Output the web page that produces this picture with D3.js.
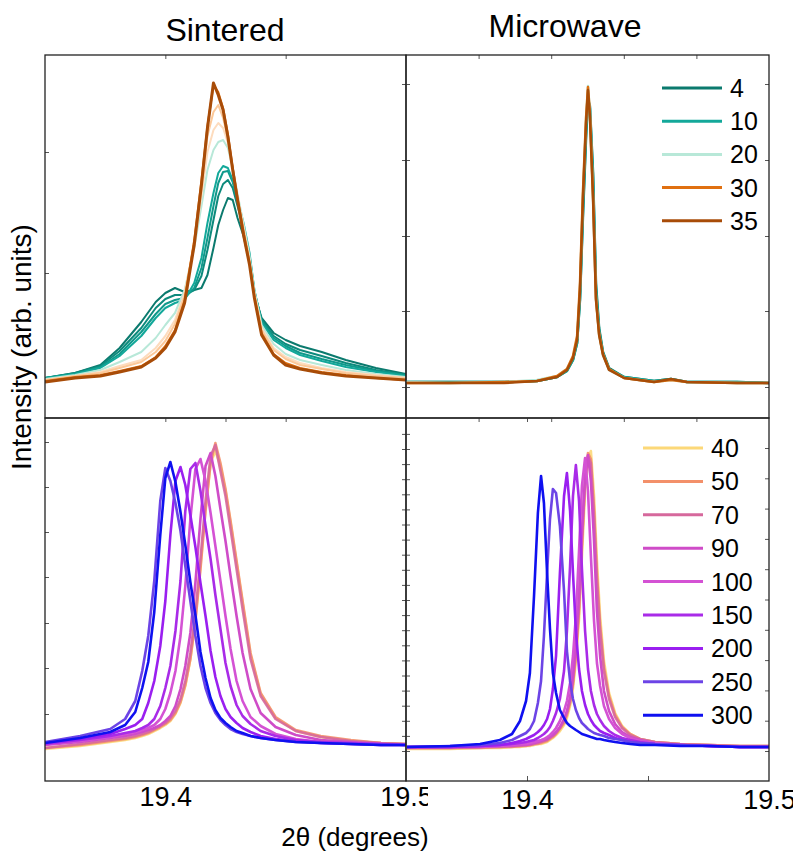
<!DOCTYPE html>
<html>
<head>
<meta charset="utf-8">
<script src="https://cdn.jsdelivr.net/npm/d3@7/dist/d3.min.js"></script>
<style>
  body { margin: 0; background: #fff; }
  text { font-family: "Liberation Sans", Arial, sans-serif; fill: #000; }
</style>
</head>
<body>
<div class="container"></div>
<script>
// 2theta grids (degrees) and intensities (arb. units)

// --- sintered, early times
var sinteredEarlyTimes = ['4', '6', '8', '10', '20', '25', '28', '30', '35'];
var sinteredEarlyX = [19.350, 19.3625, 19.373, 19.381, 19.390, 19.396, 19.400, 19.404, 19.408, 19.412,
  19.415, 19.4175, 19.420, 19.422, 19.424, 19.426, 19.428, 19.430, 19.4325, 19.435,
  19.437, 19.440, 19.445, 19.450, 19.456, 19.465, 19.475, 19.4875, 19.500];
var sinteredEarlyY = [
  [40,45,53,70,96,116,125,130,126,128,130,143,170,193,208,220,218,200,182,155,124,100,85,78,72,66,58,50,44],
  [40,45,52,67,90,110,119,123,123,128,142,168,198,222,234,238,230,212,190,160,126,98,82,74,68,62,55,48,43],
  [40,44,51,64,86,104,114,118,120,130,150,180,212,235,246,247,236,216,192,162,127,97,80,72,65,59,53,47,43],
  [40,44,50,62,82,100,110,115,118,135,160,195,225,245,252,250,238,218,195,165,128,95,78,70,63,57,51,46,42],
  [39,43,48,56,66,80,93,105,128,170,212,248,268,276,278,270,250,224,194,162,128,93,74,64,58,53,48,44,41],
  [38,42,46,52,58,70,82,98,125,172,222,266,288,295,290,275,250,222,190,158,125,90,70,61,55,50,46,43,40],
  [38,42,45,50,56,66,77,94,122,176,230,282,306,313,300,280,250,220,188,156,123,88,68,59,53,49,45,42,40],
  [37,41,43,47,52,61,72,88,118,178,238,292,333,326,310,284,250,220,186,155,122,85,64,55,50,46,43,40,38],
  [36,40,42,46,51,60,70,86,115,173,233,290,335,323,308,281,248,218,183,153,120,83,63,53,49,45,42,40,38]
];

// --- microwave, early times
var microwaveEarlyTimes = ['4', '10', '20', '30', '35'];
var microwaveEarlyX = [19.350, 19.3678, 19.3905, 19.4041, 19.4124, 19.4165, 19.4190, 19.4207, 19.4219, 19.4231,
  19.4244, 19.4252, 19.4260, 19.4273, 19.4285, 19.4298, 19.4314, 19.4339, 19.4401, 19.4525,
  19.4595, 19.4661, 19.4868, 19.500];
var microwaveEarlyY = [
  [36,36,36,37,41,47,58,75,118,200,280,318,312,245,135,90,66,50,41,37,39,36,36,35],
  [36,36,36,37,41,47,58,75,120,205,285,320,310,240,130,88,65,49,41,37,39,36,36,35],
  [36,35,36,38,42,49,61,80,130,222,300,332,306,220,119,83,63,48,40,36,38,36,35,35],
  [35,35,36,37,42,49,62,82,135,225,300,331,305,222,120,84,64,49,40,36,38,36,35,35],
  [35,35,35,37,41,48,60,78,128,218,295,328,301,218,118,83,63,48,40,36,39,36,35,35]
];

// --- sintered, late times
var lateTimes = ['40', '50', '70', '90', '100', '150', '200', '250', '300'];
var sinteredLateX = [19.3500, 19.3646, 19.3771, 19.3833, 19.3875, 19.3904, 19.3929, 19.3954, 19.3979, 19.4000,
  19.4021, 19.4042, 19.4063, 19.4083, 19.4104, 19.4125, 19.4146, 19.4167, 19.4188, 19.4208,
  19.4229, 19.4250, 19.4271, 19.4296, 19.4321, 19.4354, 19.4396, 19.4458, 19.4542, 19.4646,
  19.4771, 19.4896, 19.5000];
var sinteredLateY = [
  [32,35,39,41,43,45,47,50,53,56,60,67,78,95,122,162,215,272,318,330,315,290,258,218,178,126,87,63,50,44,40,38,37],
  [33,36,40,42,44,46,48,51,54,57,61,68,79,96,122,160,212,270,318,338,318,292,260,220,180,128,88,64,51,45,41,38,37],
  [33,37,41,43,45,47,49,52,55,58,63,70,82,100,128,168,222,280,325,336,310,285,252,212,172,122,85,62,50,44,40,38,37],
  [36,39,43,45,47,49,51,53,56,60,65,75,92,115,148,198,262,315,328,305,272,240,205,165,128,92,68,54,46,41,39,37,36],
  [37,40,44,47,49,51,53,56,62,72,88,110,145,195,262,312,322,300,268,235,200,165,132,100,80,64,55,47,42,39,38,37,36],
  [37,41,45,48,50,53,56,62,75,93,115,150,200,270,312,318,290,255,222,186,152,118,95,76,65,57,50,45,41,39,38,37,36],
  [38,42,47,52,56,62,78,100,135,180,246,300,314,296,266,234,198,165,130,104,85,72,64,58,53,49,45,42,40,38,37,36,36],
  [39,45,52,62,80,110,145,200,280,313,300,278,250,215,180,145,115,93,78,68,61,56,52,49,47,45,43,41,39,38,37,36,36],
  [38,43,49,56,69,93,119,169,246,303,319,299,269,236,199,166,129,103,83,71,63,58,54,50,48,45,43,41,39,38,37,36,36]
];

// --- microwave, late times
var microwaveLateX = [19.3504, 19.3682, 19.3806, 19.3888, 19.3938, 19.3971, 19.3996, 19.4012, 19.4029, 19.4045,
  19.4058, 19.4070, 19.4083, 19.4095, 19.4107, 19.4120, 19.4136, 19.4153, 19.4165, 19.4178,
  19.4190, 19.4202, 19.4215, 19.4227, 19.4240, 19.4252, 19.4264, 19.4277, 19.4289, 19.4302,
  19.4318, 19.4339, 19.4364, 19.4393, 19.4426, 19.4467, 19.4529, 19.4632, 19.4756, 19.4880,
  19.5000];
var microwaveLateY = [
  [32,32,33,33,34,34,35,35,36,37,37,38,39,41,43,46,50,56,63,75,93,120,162,225,290,322,330,285,220,165,120,88,68,55,47,42,39,37,36,35,35],
  [33,33,33,34,34,35,35,36,37,37,38,39,40,42,44,47,52,58,66,78,97,126,170,235,298,328,322,272,208,156,114,85,66,54,47,42,39,37,36,35,35],
  [33,33,34,34,35,35,36,36,37,38,39,40,41,43,45,48,53,60,68,80,100,130,175,240,300,325,318,265,200,150,110,82,64,53,46,42,39,37,36,35,35],
  [34,34,34,35,35,36,36,37,38,39,40,41,42,44,46,49,54,62,70,84,105,138,185,250,305,326,300,240,170,125,90,70,57,49,44,41,38,36,35,34,34],
  [34,34,34,35,36,37,37,38,39,40,41,42,44,46,49,53,60,70,80,98,125,165,230,295,323,290,225,160,118,95,75,62,53,47,43,40,38,36,35,34,34],
  [34,34,35,36,37,38,39,40,41,43,45,47,50,54,60,68,82,110,150,215,285,316,280,212,150,112,90,76,67,61,55,50,46,43,41,39,37,36,35,34,34],
  [34,34,35,36,38,40,42,44,46,49,52,56,62,72,92,125,208,285,308,270,208,150,112,90,76,67,61,56,53,50,48,46,43,41,39,38,37,36,35,34,34],
  [34,35,36,38,41,45,48,52,60,78,100,145,208,262,292,288,255,190,130,100,82,71,63,58,55,52,50,48,47,46,45,43,42,41,39,38,37,36,35,34,34],
  [34,35,37,41,47,60,80,108,185,268,305,278,208,152,108,88,71,63,58,55,53,51,49,47,46,45,44,43,42,42,41,40,39,38,37,36,36,35,35,34,34]
];

var earlyLegend = ['4', '10', '20', '30', '35'];
var xTickLabels = [19.4, 19.5];

const WIDTH = 793;
const HEIGHT = 854;
const X_DOMAIN = [19.35, 19.5];
const Y_DOMAIN = [0, 363];

var colors = {
  '4': '#0b7a6e', '6': '#0d8a7c', '8': '#10998b', '10': '#13a89a', '20': '#b8e8d8',
  '25': '#fddcbe', '28': '#fcc898', '30': '#e07010', '35': '#a84c08',
  '40': '#fcd878', '50': '#f3906a', '70': '#d6689c', '90': '#cf4cc8', '100': '#d452d4',
  '150': '#a92be8', '200': '#9a1ff0', '250': '#6c44e6', '300': '#0f10f0'
};

var translate = function (x, y) {
  return 'translate(' + x + ',' + y + ')';
};

var svg = d3.select('.container').append('svg')
  .attr('width', WIDTH)
  .attr('height', HEIGHT);

var minorTicks = d3.range(30, 350, 15.1);
var majorTicks = d3.range(30, 340, 30.3);
var topTicks = [31, 107, 182, 258, 334];

var panels = [
  { id: 'tl', x0: 45, x1: 406, y0: 55, y1: 418, grid: sinteredEarlyX, series: sinteredEarlyY, names: sinteredEarlyTimes,
    top: [19.4, 19.45], bottom: [], left: [145, 266], right: topTicks, width: function (n) { return n === '35' ? 3 : 2; } },
  { id: 'tr', x0: 406, x1: 769, y0: 55, y1: 418, grid: microwaveEarlyX, series: microwaveEarlyY, names: microwaveEarlyTimes,
    top: [19.38, 19.41, 19.44, 19.47], bottom: [], left: topTicks, right: topTicks, width: function () { return 2.5; } },
  { id: 'bl', x0: 45, x1: 406, y0: 418, y1: 781, grid: sinteredLateX, series: sinteredLateY, names: lateTimes,
    top: [19.4, 19.425, 19.45], bottom: [], left: [67, 113, 158, 204, 249, 294, 339], right: minorTicks, width: function () { return 2.6; } },
  { id: 'br', x0: 406, x1: 769, y0: 418, y1: 781, grid: microwaveLateX, series: microwaveLateY, names: lateTimes,
    top: [19.38, 19.40, 19.41, 19.44, 19.47], bottom: [19.4, 19.45], left: minorTicks, right: majorTicks, width: function () { return 2.6; } }
];

var tickGroup = function (g, axis) {
  g.call(axis);
  g.select('.domain').remove();
  g.selectAll('.tick line').attr('stroke', '#555');
};

var drawPanel = function (p) {
  var xScale = d3.scaleLinear().domain(X_DOMAIN).range([p.x0, p.x1]);
  var yScale = d3.scaleLinear().domain(Y_DOMAIN).range([p.y1, p.y0]);

  svg.append('clipPath').attr('id', 'clip-' + p.id)
    .append('rect')
    .attr('x', p.x0).attr('y', p.y0)
    .attr('width', p.x1 - p.x0).attr('height', p.y1 - p.y0);

  var line = d3.line()
    .x(function (d, i) { return xScale(p.grid[i]); })
    .y(function (d) { return yScale(d); });

  var g = svg.append('g').attr('clip-path', 'url(#clip-' + p.id + ')');
  g.selectAll('path')
    .data(p.series)
    .enter().append('path')
    .attr('d', function (d) { return line(d); })
    .attr('fill', 'none')
    .attr('stroke', function (d, i) { return colors[p.names[i]]; })
    .attr('stroke-width', function (d, i) { return p.width(p.names[i]); })
    .attr('stroke-linejoin', 'round')
    .attr('opacity', function (d, i) { return +p.names[i] <= 70 && +p.names[i] >= 40 ? 0.9 : 1; });

  tickGroup(svg.append('g').attr('transform', translate(0, p.y0)),
    d3.axisTop(xScale).tickValues(p.top).tickSize(-4).tickFormat(''));
  tickGroup(svg.append('g').attr('transform', translate(0, p.y1)),
    d3.axisBottom(xScale).tickValues(p.bottom).tickSize(-5).tickFormat(''));
  tickGroup(svg.append('g').attr('transform', translate(p.x0, 0)),
    d3.axisLeft(yScale).tickValues(p.left).tickSize(-4).tickFormat(''));
  tickGroup(svg.append('g').attr('transform', translate(p.x1, 0)),
    d3.axisRight(yScale).tickValues(p.right).tickSize(-4).tickFormat(''));

  svg.append('rect')
    .attr('x', p.x0).attr('y', p.y0)
    .attr('width', p.x1 - p.x0).attr('height', p.y1 - p.y0)
    .attr('fill', 'none')
    .attr('stroke', '#222')
    .attr('stroke-width', 1.3);

  return xScale;
};

var scales = panels.map(drawPanel);

// x tick labels under the bottom panels (the left "19.5" is cut by the next panel in the original)
svg.append('clipPath').attr('id', 'clip-lab')
  .append('rect').attr('x', 0).attr('y', 0).attr('width', 428).attr('height', 40);

[[scales[2], 6, 'url(#clip-lab)'], [scales[3], 9, null]].forEach(function (s) {
  var g = svg.append('g')
    .attr('transform', translate(0, 781))
    .attr('clip-path', s[2])
    .call(d3.axisBottom(s[0]).tickValues(xTickLabels).tickFormat(d3.format('.1f')).tickSize(0).tickPadding(s[1]));
  g.select('.domain').remove();
  g.selectAll('text')
    .attr('font-family', '"Liberation Sans", Arial, sans-serif')
    .attr('font-size', 27)
    .attr('fill', '#000');
});

// legends
var drawLegend = function (names, x, y, step) {
  var lg = svg.append('g').attr('transform', translate(x, y));
  var item = lg.selectAll('g')
    .data(names)
    .enter().append('g')
    .attr('transform', function (d, i) { return translate(0, i * step); });
  item.append('line')
    .attr('x1', 0).attr('x2', 60)
    .attr('stroke', function (d) { return colors[d]; })
    .attr('stroke-width', 3);
  item.append('text')
    .attr('x', 68).attr('y', 9)
    .attr('font-size', 25)
    .text(function (d) { return d; });
};

drawLegend(earlyLegend, 662, 88, 33.2);
drawLegend(lateTimes, 643, 448, 33.4);

// titles and axis labels
svg.append('text').attr('x', 225).attr('y', 41).attr('text-anchor', 'middle')
  .attr('font-size', 32).text('Sintered');
svg.append('text').attr('x', 565).attr('y', 37).attr('text-anchor', 'middle')
  .attr('font-size', 32).text('Microwave');
svg.append('text')
  .attr('transform', translate(31, 347) + ' rotate(-90)')
  .attr('text-anchor', 'middle')
  .attr('font-size', 28)
  .text('Intensity (arb. units)');
svg.append('text').attr('x', 355).attr('y', 846).attr('text-anchor', 'middle')
  .attr('font-size', 26).text('2θ (degrees)');
</script>
</body>
</html>
